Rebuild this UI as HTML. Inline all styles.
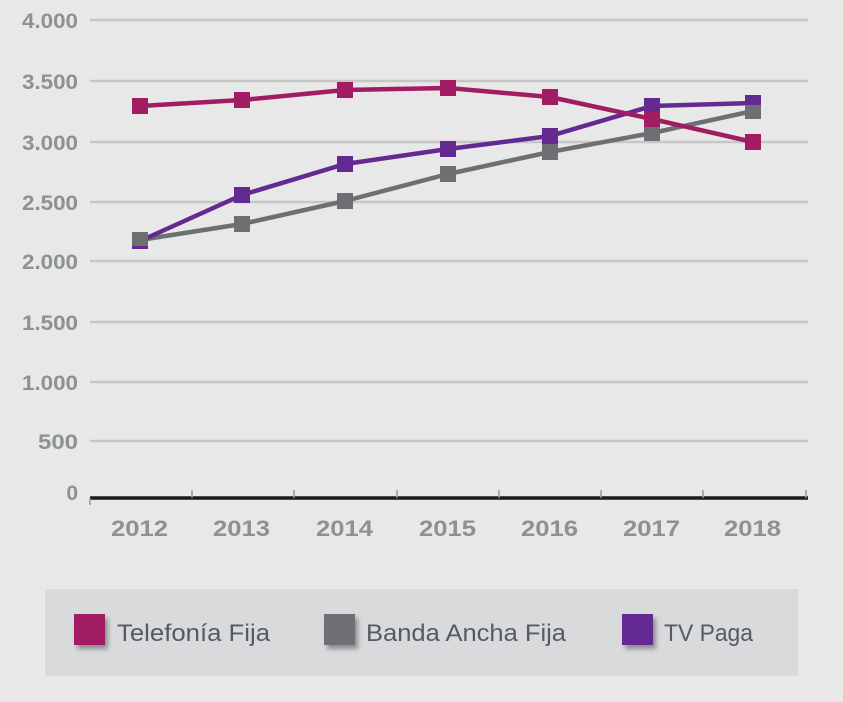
<!DOCTYPE html>
<html><head><meta charset="utf-8"><style>
html,body{margin:0;padding:0;background:#e8e8e8;}
svg{display:block;font-family:"Liberation Sans",sans-serif;}
</style></head><body>
<svg width="843" height="702" viewBox="0 0 843 702">
<defs><filter id="sh" x="-50%" y="-50%" width="200%" height="200%"><feDropShadow dx="3" dy="4" stdDeviation="2.5" flood-color="#000" flood-opacity="0.35"/></filter></defs>
<rect width="843" height="702" fill="#e8e8e8"/>
<g stroke="#c6c6c6" stroke-width="2.5">
<line x1="90" x2="808" y1="20" y2="20"/><line x1="90" x2="808" y1="81" y2="81"/>
<line x1="90" x2="808" y1="142" y2="142"/><line x1="90" x2="808" y1="202" y2="202"/>
<line x1="90" x2="808" y1="261" y2="261"/><line x1="90" x2="808" y1="322" y2="322"/>
<line x1="90" x2="808" y1="382" y2="382"/><line x1="90" x2="808" y1="441" y2="441"/>
</g>
<line x1="90" x2="808" y1="498" y2="498" stroke="#1a1a1a" stroke-width="3.5"/>
<g stroke="#999" stroke-width="1.5">
<line x1="90" x2="90" y1="498" y2="505"/><line x1="192" x2="192" y1="490" y2="498"/><line x1="294" x2="294" y1="490" y2="498"/><line x1="397" x2="397" y1="490" y2="498"/><line x1="499" x2="499" y1="490" y2="498"/><line x1="601" x2="601" y1="490" y2="498"/><line x1="703" x2="703" y1="490" y2="498"/><line x1="806" x2="806" y1="490" y2="498"/>
</g>
<g fill="#8c9194" font-weight="bold" font-size="21" text-anchor="end">
<text x="78" y="28" textLength="56" lengthAdjust="spacingAndGlyphs">4.000</text><text x="78" y="89" textLength="56" lengthAdjust="spacingAndGlyphs">3.500</text><text x="78" y="150" textLength="56" lengthAdjust="spacingAndGlyphs">3.000</text><text x="78" y="210" textLength="56" lengthAdjust="spacingAndGlyphs">2.500</text><text x="78" y="269" textLength="56" lengthAdjust="spacingAndGlyphs">2.000</text><text x="78" y="330" textLength="56" lengthAdjust="spacingAndGlyphs">1.500</text><text x="78" y="390" textLength="56" lengthAdjust="spacingAndGlyphs">1.000</text><text x="78" y="449" textLength="40" lengthAdjust="spacingAndGlyphs">500</text><text x="78" y="500">0</text>
</g>
<g fill="#8c9194" font-weight="bold" font-size="22">
<text x="111" y="536" textLength="57" lengthAdjust="spacingAndGlyphs">2012</text><text x="213" y="536" textLength="57" lengthAdjust="spacingAndGlyphs">2013</text><text x="316" y="536" textLength="57" lengthAdjust="spacingAndGlyphs">2014</text><text x="419" y="536" textLength="57" lengthAdjust="spacingAndGlyphs">2015</text><text x="521" y="536" textLength="57" lengthAdjust="spacingAndGlyphs">2016</text><text x="623" y="536" textLength="57" lengthAdjust="spacingAndGlyphs">2017</text><text x="724" y="536" textLength="57" lengthAdjust="spacingAndGlyphs">2018</text>
</g>
<g fill="none" stroke-width="4.5" stroke-linejoin="round">
<polyline stroke="#6e6f73" points="140,240 242,224 345,201 448,174 550,152 652,133 753,111"/>
<polyline stroke="#652a91" points="140,241 242,195 345,164 448,149 550,136 652,106 753,103"/>
<polyline stroke="#a11c63" points="140,106 242,100 345,90 448,88 550,97 652,119 753,142"/>
</g>
<g fill="#6e6f73"><rect x="132" y="232" width="16" height="16"/><rect x="234" y="216" width="16" height="16"/><rect x="337" y="193" width="16" height="16"/><rect x="440" y="166" width="16" height="16"/><rect x="542" y="144" width="16" height="16"/><rect x="644" y="125" width="16" height="16"/><rect x="745" y="103" width="16" height="16"/></g>
<g fill="#652a91"><rect x="234" y="187" width="16" height="16"/><rect x="337" y="156" width="16" height="16"/><rect x="440" y="141" width="16" height="16"/><rect x="542" y="128" width="16" height="16"/><rect x="644" y="98" width="16" height="16"/><rect x="745" y="95" width="16" height="10"/><rect x="132" y="246" width="16" height="3"/></g>
<g fill="#a11c63"><rect x="132" y="98" width="16" height="16"/><rect x="234" y="92" width="16" height="16"/><rect x="337" y="82" width="16" height="16"/><rect x="440" y="80" width="16" height="16"/><rect x="542" y="89" width="16" height="16"/><rect x="644" y="111" width="16" height="16"/><rect x="745" y="134" width="16" height="16"/></g>
<rect x="45" y="589" width="753" height="87" fill="#d9dadc"/>
<rect x="74" y="614" width="31" height="31" fill="#a11c63" filter="url(#sh)"/>
<rect x="324" y="614" width="31" height="31" fill="#6e6f73" filter="url(#sh)"/>
<rect x="622" y="614" width="31" height="31" fill="#652a91" filter="url(#sh)"/>
<g fill="#555a66" font-size="24">
<text x="117" y="641" textLength="153" lengthAdjust="spacingAndGlyphs">Telefonía Fija</text><text x="366" y="641" textLength="200" lengthAdjust="spacingAndGlyphs">Banda Ancha Fija</text><text x="664" y="641" textLength="89" lengthAdjust="spacingAndGlyphs">TV Paga</text>
</g>
</svg>
</body></html>
